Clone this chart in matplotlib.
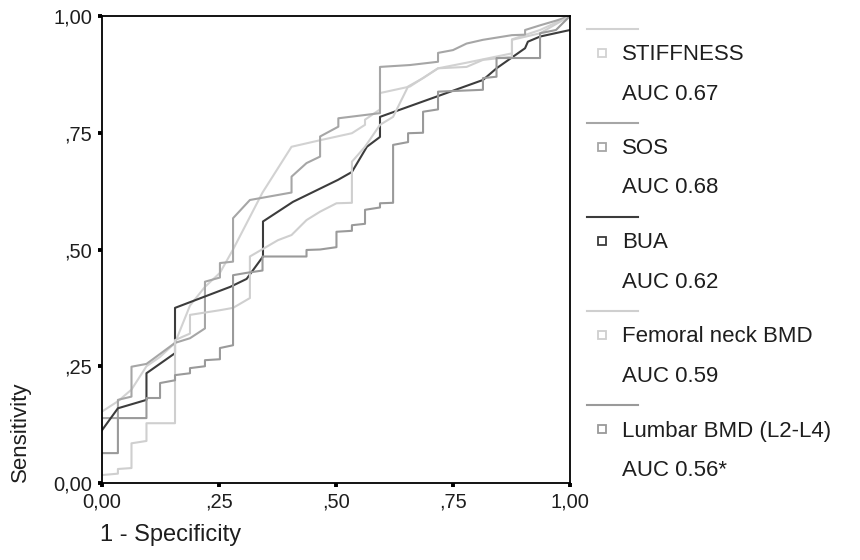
import matplotlib.pyplot as plt
from matplotlib.lines import Line2D

plt.rcParams['font.family'] = ['Liberation Sans', 'DejaVu Sans']

# ROC curves (1 - specificity, sensitivity)
stiff_x = [0, .034, .063, .095, .124, .156, .188, .22, .252, .28, .343, .405, .466, .534, .562, .562, .594, .594, .658, .718, .779, .876, .876, .936, 1]
stiff_y = [.153, .175, .2, .25, .27, .3, .38, .42, .45, .5, .622, .72, .734, .749, .767, .778, .8, .835, .849, .888, .90, .92, .95, .97, 1]

sos_x = [0, .034, .034, .063, .063, .095, .156, .188, .22, .22, .252, .252, .28, .28, .316, .405, .405, .437, .466, .466, .505, .505, .594, .594, .658, .718, .718, .75, .779, .814, .876, .904, .904, .936, .97, 1]
sos_y = [.139, .139, .178, .185, .249, .255, .30, .31, .331, .431, .44, .471, .474, .567, .606, .622, .656, .685, .699, .742, .763, .781, .792, .891, .895, .902, .921, .927, .941, .949, .959, .96, .97, .98, .99, 1]

bua_x = [0, .034, .095, .095, .156, .156, .274, .309, .344, .344, .408, .504, .534, .566, .594, .594, .814, .843, .904, .91, .936, 1]
bua_y = [.113, .16, .178, .235, .278, .375, .42, .437, .485, .56, .602, .649, .666, .72, .741, .784, .863, .888, .931, .945, .956, .97]

fem_x = [0, .034, .034, .063, .063, .095, .095, .156, .156, .188, .188, .22, .252, .28, .316, .316, .376, .405, .437, .466, .501, .534, .534, .562, .594, .622, .654, .686, .718, .779, .814, .876, .876, .936, 1]
fem_y = [.017, .02, .03, .032, .085, .09, .128, .128, .306, .32, .36, .365, .37, .375, .396, .485, .52, .531, .563, .581, .599, .6, .688, .72, .767, .784, .849, .867, .888, .891, .906, .913, .949, .963, 1]

lum_x = [0, .034, .034, .095, .095, .124, .124, .156, .156, .188, .188, .22, .22, .252, .252, .28, .28, .309, .343, .343, .437, .437, .466, .501, .501, .534, .534, .562, .562, .594, .594, .622, .622, .654, .654, .686, .686, .718, .718, .814, .814, .843, .843, .936, .936, .97, 1]
lum_y = [.064, .064, .139, .139, .182, .182, .214, .22, .231, .235, .246, .25, .263, .265, .289, .295, .445, .45, .455, .485, .485, .499, .50, .505, .538, .54, .552, .555, .585, .59, .599, .60, .724, .73, .749, .75, .795, .80, .838, .842, .867, .87, .91, .91, .963, .97, 1]

names = ['STIFFNESS', 'SOS', 'BUA', 'Femoral neck BMD', 'Lumbar BMD (L2-L4)']
aucs = ['AUC 0.67', 'AUC 0.68', 'AUC 0.62', 'AUC 0.59', 'AUC 0.56*']
colors = ['#d2d2d2', '#a6a6a6', '#3c3c3c', '#cfcfcf', '#9a9a9a']
xs = [stiff_x, sos_x, bua_x, fem_x, lum_x]
ys = [stiff_y, sos_y, bua_y, fem_y, lum_y]

txt = '#1e1e1e'

fig = plt.figure(figsize=(8.6, 5.6), dpi=100)
ax = fig.add_axes([102 / 860, 1 - 483 / 560, 468 / 860, 467 / 560])

for x, y, c in zip(xs, ys, colors):
    ax.plot(x, y, color=c, lw=1.5)

ax.set_xlim(0, 1)
ax.set_ylim(0, 1)
ticks = [0, .25, .5, .75, 1]
ax.set_xticks(ticks, ['0,00', ',25', ',50', ',75', '1,00'])
ax.set_yticks(ticks, ['0,00', ',25', ',50', ',75', '1,00'])
ax.tick_params(direction='out', length=3, width=2.8, labelsize=14.5, pad=4, labelcolor=txt)
for s in ax.spines.values():
    s.set_linewidth(1.3)

fig.text(20 / 860, 1 - 482 / 560, 'Sensitivity', rotation=90, ha='center', va='bottom', fontsize=16, color=txt)
fig.text(100 / 860, 1 - 535 / 560, '1 - Specificity', ha='left', va='center', fontsize=17, color=txt)

# custom legend at the right
for i, (name, auc, c) in enumerate(zip(names, aucs, colors)):
    top = 29 + i * 94
    fig.add_artist(Line2D([587 / 860, 638 / 860], [1 - top / 560] * 2, color=c, lw=1.5, transform=fig.transFigure))
    fig.add_artist(Line2D([602 / 860], [1 - (top + 24) / 560], marker='s', markersize=5.5, mfc='white', mec=c, mew=1.3, transform=fig.transFigure))
    fig.text(622 / 860, 1 - (top + 26) / 560, name, ha='left', va='center', fontsize=16, color=txt)
    fig.text(622 / 860, 1 - (top + 65) / 560, auc, ha='left', va='center', fontsize=16, color=txt)

fig.savefig('out.png', dpi=100)
